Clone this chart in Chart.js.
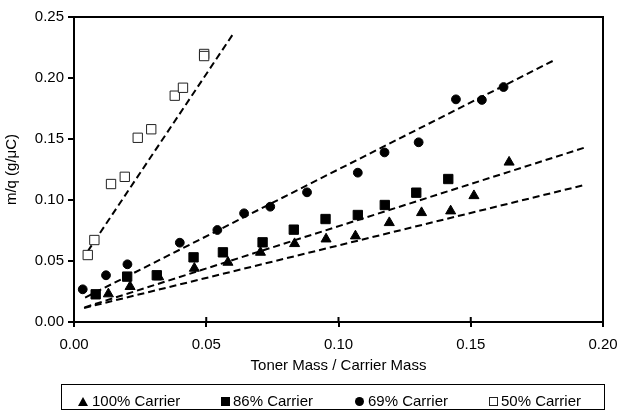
<!DOCTYPE html>
<html>
<head>
<meta charset="utf-8">
<script src="https://cdn.jsdelivr.net/npm/chart.js@4/dist/chart.umd.min.js"></script>
<style>
  body { margin: 0; background: #fff; }
  #wrap { position: relative; width: 620px; height: 414px; }
  #legend {
    position: absolute; left: 61px; top: 384px; width: 542px; height: 24px;
    border: 1px solid #000; font-family: "Liberation Sans", Arial, sans-serif; font-size: 15px;
  }
  #legend .txt { position: absolute; top: 7px; line-height: 18px; white-space: nowrap; color: #000; }
  #legend .sym { position: absolute; box-sizing: border-box; }
</style>
</head>
<body>
<div id="wrap">
  <canvas id="c" width="620" height="414"></canvas>
  <div id="legend"></div>
</div>
<script>
const tri100X = [0.013, 0.0212, 0.032, 0.0455, 0.0582, 0.0705, 0.0834, 0.0953, 0.1064, 0.1192, 0.1314, 0.1424, 0.1512, 0.1645];
const tri100Y = [0.023, 0.029, 0.037, 0.044, 0.0489, 0.0571, 0.0642, 0.068, 0.0705, 0.0814, 0.0896, 0.091, 0.1035, 0.131];

const sq86X = [0.0082, 0.0201, 0.0313, 0.0452, 0.0563, 0.0713, 0.0831, 0.0951, 0.1073, 0.1175, 0.1294, 0.1415];
const sq86Y = [0.0227, 0.0372, 0.0383, 0.053, 0.0571, 0.0653, 0.0757, 0.0844, 0.0877, 0.0959, 0.106, 0.1172];

const circ69X = [0.0033, 0.0121, 0.0202, 0.040, 0.0542, 0.0643, 0.0742, 0.0881, 0.1073, 0.1174, 0.1303, 0.1444, 0.1542, 0.1624];
const circ69Y = [0.0268, 0.0383, 0.0473, 0.065, 0.0754, 0.0891, 0.0945, 0.1063, 0.1224, 0.139, 0.1473, 0.1825, 0.182, 0.1926];

const open50X = [0.0052, 0.0077, 0.014, 0.0192, 0.0241, 0.0292, 0.0381, 0.0412, 0.0492, 0.0492];
const open50Y = [0.0549, 0.0672, 0.1131, 0.119, 0.151, 0.158, 0.1855, 0.192, 0.2197, 0.218];

// trendline end points (as drawn)
const fit100X = [0.0038, 0.193], fit100Y = [0.0115, 0.1123];
const fit86X = [0.004, 0.193], fit86Y = [0.012, 0.1429];
const fit69X = [0.0042, 0.1822], fit69Y = [0.020, 0.2153];
const fit50X = [0.0052, 0.0603], fit50Y = [0.058, 0.2366];

const legendLabels = ["100% Carrier", "86% Carrier", "69% Carrier", "50% Carrier"];

const xTicks = [0, 0.05, 0.10, 0.15, 0.20];
const yTicks = [0, 0.05, 0.10, 0.15, 0.20, 0.25];

const FONT = "'Liberation Sans', Arial, sans-serif";

function pts(xs, ys) {
  return xs.map((x, i) => ({x: x, y: ys[i]}));
}

function marks(label, xs, ys, style, radius, fill) {
  return {
    label: label,
    data: pts(xs, ys),
    showLine: false,
    pointStyle: style,
    pointRadius: radius,
    pointHoverRadius: radius,
    pointBackgroundColor: fill,
    pointBorderColor: fill === '#fff' ? '#222' : '#000',
    pointBorderWidth: 1,
    order: 1
  };
}

function trend(xs, ys) {
  return {
    data: pts(xs, ys),
    showLine: true,
    borderColor: '#000',
    borderWidth: 2,
    borderDash: [7, 4],
    pointRadius: 0,
    fill: false,
    order: 2
  };
}

// box around plot + x ticks pointing inward too
const frame = {
  id: 'frame',
  afterDraw(chart) {
    const a = chart.chartArea, ctx = chart.ctx, xs = chart.scales.x;
    ctx.save();
    ctx.strokeStyle = '#000';
    ctx.lineWidth = 2;
    ctx.strokeRect(a.left, a.top, a.right - a.left, a.bottom - a.top);
    ctx.beginPath();
    xTicks.slice(1, -1).forEach(v => {
      const px = xs.getPixelForValue(v);
      ctx.moveTo(px, a.bottom);
      ctx.lineTo(px, a.bottom - 5);
    });
    ctx.stroke();
    ctx.restore();
  }
};

new Chart(document.getElementById('c'), {
  type: 'scatter',
  data: {
    datasets: [
      marks(legendLabels[0], tri100X, tri100Y, 'triangle', 5.8, '#000'),
      marks(legendLabels[1], sq86X, sq86Y, 'rect', 6.6, '#000'),
      marks(legendLabels[2], circ69X, circ69Y, 'circle', 4.4, '#000'),
      marks(legendLabels[3], open50X, open50Y, 'rect', 6.6, '#fff'),
      trend(fit100X, fit100Y),
      trend(fit86X, fit86Y),
      trend(fit69X, fit69Y),
      trend(fit50X, fit50Y)
    ]
  },
  options: {
    responsive: false,
    animation: false,
    layout: { padding: { top: 17, right: 17, bottom: 35, left: 0 } },
    plugins: { legend: { display: false }, tooltip: { enabled: false } },
    scales: {
      x: {
        type: 'linear', min: 0, max: 0.2,
        afterBuildTicks: s => { s.ticks = xTicks.map(v => ({value: v})); },
        afterFit: s => { s.height = 57; s.paddingRight = 0; s.paddingLeft = 0; },
        border: { color: '#000', width: 2 },
        grid: { drawOnChartArea: false, color: '#000', lineWidth: 2, tickLength: 5 },
        ticks: { color: '#000', padding: 9, font: { family: FONT, size: 15 },
                 callback: v => v.toFixed(2), maxRotation: 0 },
        title: { display: true, text: 'Toner Mass / Carrier Mass', color: '#000',
                 font: { family: FONT, size: 15 }, padding: { top: 0, bottom: 4 } }
      },
      y: {
        type: 'linear', min: 0, max: 0.25,
        afterBuildTicks: s => { s.ticks = yTicks.map(v => ({value: v})); },
        afterFit: s => { s.width = 74; },
        border: { color: '#000', width: 2 },
        grid: { drawOnChartArea: false, color: '#000', lineWidth: 2, tickLength: 6 },
        ticks: { color: '#000', padding: 4, font: { family: FONT, size: 15 },
                 callback: v => v.toFixed(2) },
        title: { display: true, text: 'm/q (g/\u03bcC)', color: '#000',
                 font: { family: FONT, size: 15 }, padding: { top: 3, bottom: 0 } }
      }
    }
  },
  plugins: [frame]
});

// legend below the plot
const legend = document.getElementById('legend');
const symLeft = [16, 159, 293, 427];
const txtLeft = [30, 171, 306, 439];
const symCss = [
  'width:0;height:0;border-left:5px solid transparent;border-right:5px solid transparent;border-bottom:9px solid #000;top:12px;',
  'width:9px;height:9px;background:#000;top:12px;',
  'width:9px;height:9px;background:#000;border-radius:50%;top:12px;',
  'width:9px;height:9px;background:#fff;border:1px solid #222;top:12px;'
];
legendLabels.forEach((t, i) => {
  const s = document.createElement('div');
  s.className = 'sym';
  s.style.cssText = symCss[i] + 'left:' + symLeft[i] + 'px;';
  legend.appendChild(s);
  const d = document.createElement('div');
  d.className = 'txt';
  d.style.left = txtLeft[i] + 'px';
  d.textContent = t;
  legend.appendChild(d);
});
</script>
</body>
</html>
